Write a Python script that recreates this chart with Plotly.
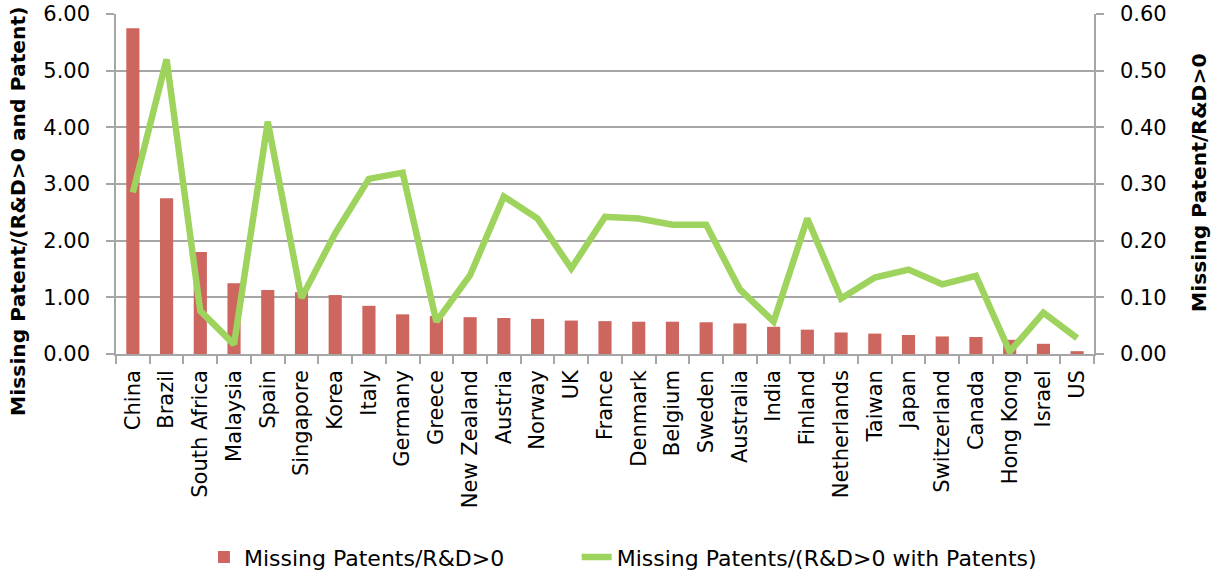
import plotly.graph_objects as go

countries = ["China", "Brazil", "South Africa", "Malaysia", "Spain", "Singapore", "Korea", "Italy",
             "Germany", "Greece", "New Zealand", "Austria", "Norway", "UK", "France", "Denmark",
             "Belgium", "Sweden", "Australia", "India", "Finland", "Netherlands", "Taiwan", "Japan",
             "Switzerland", "Canada", "Hong Kong", "Israel", "US"]

bar_values = [5.75, 2.75, 1.80, 1.25, 1.13, 1.09, 1.04, 0.85, 0.70, 0.67, 0.65, 0.635, 0.62, 0.59,
              0.58, 0.57, 0.57, 0.56, 0.54, 0.48, 0.43, 0.38, 0.36, 0.335, 0.31, 0.30, 0.25, 0.18, 0.05]

line_values = [0.285, 0.52, 0.076, 0.017, 0.41, 0.099, 0.213, 0.309, 0.32, 0.057, 0.139, 0.278,
               0.239, 0.151, 0.242, 0.239, 0.228, 0.228, 0.114, 0.057, 0.239, 0.098, 0.135, 0.149,
               0.123, 0.138, 0.004, 0.073, 0.028]

left_title = "Missing Patent/(R&D>0 and Patent)"
right_title = "Missing Patent/R&D>0"

FONT = "DejaVu Sans"
GRID = "#A6A6A6"

fig = go.Figure()
fig.add_trace(go.Bar(x=countries, y=bar_values, name="Missing Patents/R&D>0",
                     marker=dict(color="#CC665F", line=dict(width=0)), width=0.39, yaxis="y",
                     legend="legend"))
fig.add_trace(go.Scatter(x=countries, y=line_values, name="Missing Patents/(R&D>0 with Patents)",
                         mode="lines", line=dict(color="#9ED35E", width=6.5), yaxis="y2",
                         legend="legend2"))

axis_common = dict(showline=True, linecolor=GRID, linewidth=1.5, ticks="outside", ticklen=8,
                   tickcolor=GRID, tickwidth=1.5, zeroline=False, automargin=False,
                   ticklabeloverflow="allow")

legend_common = dict(orientation="h", xanchor="left", xref="container", yanchor="middle",
                     yref="container", y=0.031, font=dict(size=22, family=FONT),
                     bgcolor="rgba(0,0,0,0)")

fig.update_layout(
    width=1214, height=575,
    margin=dict(l=116, r=120, t=14, b=221, autoexpand=False),
    paper_bgcolor="white", plot_bgcolor="white",
    font=dict(family=FONT, color="black", size=20),
    showlegend=True,
    legend=dict(x=0.168, **legend_common),
    legend2=dict(x=0.475, **legend_common),
    xaxis=dict(type="category", tickangle=-90, tickfont=dict(size=21, family=FONT),
               tickson="boundaries", showgrid=False, ticklabelstandoff=6, **axis_common),
    yaxis=dict(range=[0, 6], dtick=1, tickformat=".2f", tickfont=dict(size=21, family=FONT),
               showgrid=True, gridcolor=GRID, gridwidth=1.5, ticklabelstandoff=12, **axis_common),
    yaxis2=dict(range=[0, 0.6], dtick=0.1, tickformat=".2f", tickfont=dict(size=21, family=FONT),
                overlaying="y", side="right", showgrid=False, ticklabelstandoff=12, **axis_common),
    annotations=[
        dict(text="<b>" + left_title + "</b>", textangle=-90, xref="paper", yref="paper",
             x=-0.1002, y=0.418, xanchor="center", yanchor="middle", showarrow=False,
             font=dict(size=20.3, family=FONT)),
        dict(text="<b>" + right_title + "</b>", textangle=-90, xref="paper", yref="paper",
             x=1.108, y=0.505, xanchor="center", yanchor="middle", showarrow=False,
             font=dict(size=20.3, family=FONT)),
    ],
)

fig.write_html("out.html", config={"displayModeBar": False},
               post_script="document.body.style.margin='0px';document.body.style.overflow='hidden';")
